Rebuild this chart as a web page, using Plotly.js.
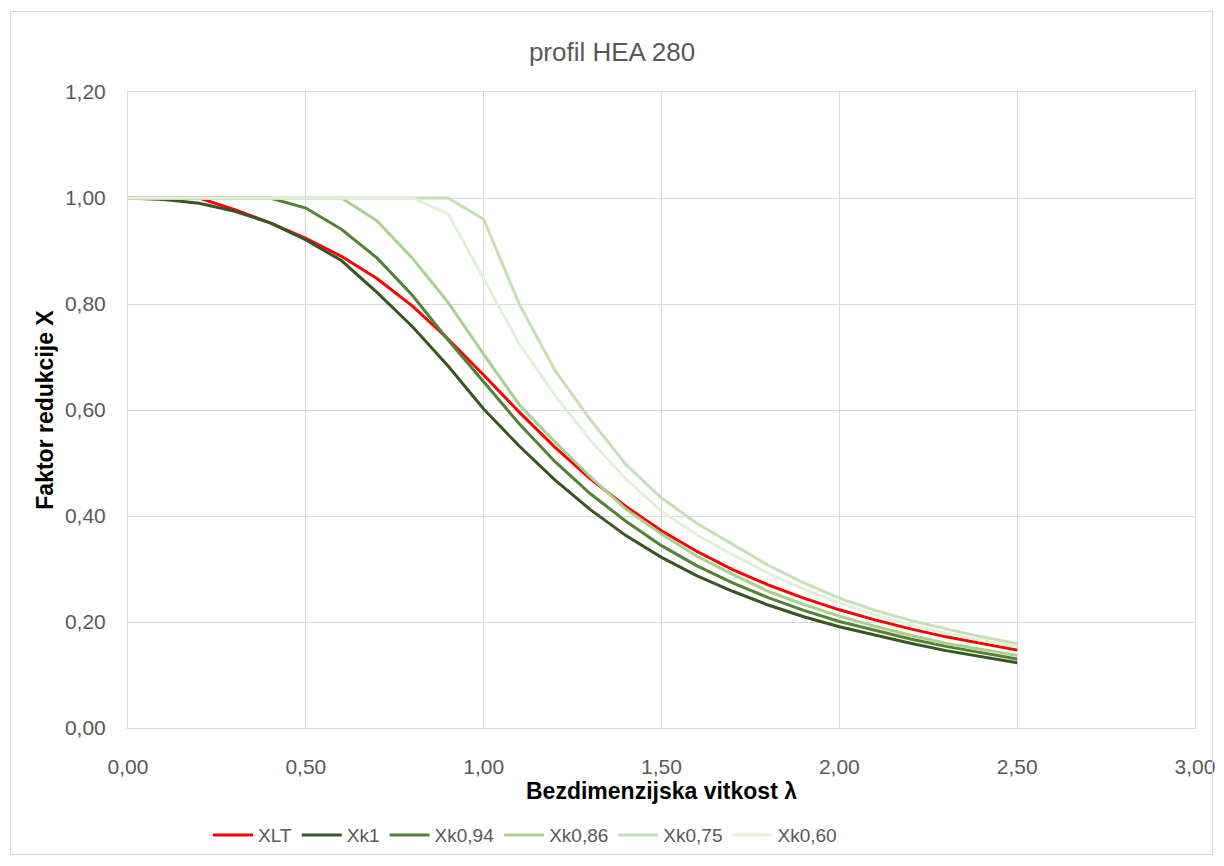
<!DOCTYPE html>
<html>
<head>
<meta charset="utf-8">
<script src="https://cdn.plot.ly/plotly-3.0.1.min.js"></script>
<style>
  body { margin: 0; background: #ffffff; }
  #wrap { position: relative; width: 1224px; height: 866px; }
  #chart { position: absolute; left: 0; top: 0; width: 1224px; height: 866px; }
  #frame { position: absolute; left: 10px; top: 11px; width: 1201px; height: 842px;
           border: 1px solid #d9d9d9; pointer-events: none; }
</style>
</head>
<body>
<div id="wrap">
  <div id="chart"></div>
  <div id="frame"></div>
</div>
<script>
// slenderness values (lambda)
const lambda = [0.0, 0.1, 0.2, 0.3, 0.4, 0.5, 0.6, 0.7, 0.8, 0.9, 1.0, 1.1, 1.2, 1.3,
                1.4, 1.5, 1.6, 1.7, 1.8, 1.9, 2.0, 2.1, 2.2, 2.3, 2.4, 2.5];

const XLT = [1.000, 1.000, 1.000, 0.978, 0.953, 0.924, 0.890, 0.848, 0.796, 0.734, 0.666, 0.596, 0.530,
             0.470, 0.418, 0.372, 0.333, 0.299, 0.270, 0.245, 0.223, 0.204, 0.187, 0.172, 0.159, 0.147];

const Xk1 = [1.000, 0.997, 0.990, 0.975, 0.953, 0.921, 0.882, 0.822, 0.757, 0.683, 0.602, 0.532, 0.468,
             0.412, 0.363, 0.322, 0.287, 0.258, 0.232, 0.210, 0.191, 0.175, 0.160, 0.146, 0.134, 0.123];

const Xk094 = [1.000, 1.000, 1.000, 1.000, 1.000, 0.981, 0.941, 0.887, 0.816, 0.732, 0.652, 0.574, 0.503,
               0.442, 0.390, 0.344, 0.306, 0.274, 0.246, 0.222, 0.201, 0.184, 0.168, 0.154, 0.142, 0.130];

const Xk086 = [1.000, 1.000, 1.000, 1.000, 1.000, 1.000, 1.000, 0.957, 0.886, 0.803, 0.705, 0.610, 0.540,
               0.474, 0.413, 0.366, 0.324, 0.290, 0.258, 0.233, 0.211, 0.192, 0.175, 0.160, 0.148, 0.137];

const Xk075 = [1.000, 1.000, 1.000, 1.000, 1.000, 1.000, 1.000, 1.000, 1.000, 1.000, 0.960, 0.800, 0.675,
               0.582, 0.497, 0.434, 0.386, 0.346, 0.307, 0.274, 0.245, 0.222, 0.203, 0.187, 0.172, 0.159];

const Xk060 = [1.000, 1.000, 1.000, 1.000, 1.000, 1.000, 1.000, 1.000, 1.000, 0.970, 0.848, 0.725, 0.628,
               0.543, 0.470, 0.409, 0.364, 0.327, 0.292, 0.262, 0.236, 0.214, 0.195, 0.179, 0.165, 0.153];

const seriesNames = ["XLT", "Xk1", "Xk0,94", "Xk0,86", "Xk0,75", "Xk0,60"];
const seriesData = [XLT, Xk1, Xk094, Xk086, Xk075, Xk060];
const seriesColors = ["#ff0000", "#375623", "#548235", "#a9d18e", "#c5e0b4", "#e2f0d9"];

const FONT = "Liberation Sans, Arial, sans-serif";

const traces = seriesNames.map((name, i) => ({
  type: "scatter",
  mode: "lines",
  name: name,
  x: lambda,
  y: seriesData[i],
  line: { color: seriesColors[i], width: 3 }
}));

const layout = {
  width: 1224,
  height: 866,
  margin: { l: 128, r: 29, t: 92, b: 133 },
  paper_bgcolor: "#ffffff",
  plot_bgcolor: "#ffffff",
  separators: ", ",
  font: { family: FONT, color: "#595959", size: 21 },
  title: {
    text: "profil HEA 280",
    font: { family: FONT, size: 26, color: "#595959" },
    x: 0.5, xref: "container", xanchor: "center",
    y: 1 - 52 / 866, yref: "container", yanchor: "middle"
  },
  xaxis: {
    range: [0, 3],
    dtick: 0.5,
    tick0: 0,
    tickformat: ".2f",
    showgrid: true,
    gridcolor: "#d9d9d9",
    gridwidth: 1,
    zeroline: false,
    showline: true,
    linecolor: "#d9d9d9",
    linewidth: 1,
    mirror: true,
    ticks: "",
    ticklabelstandoff: 20,
    tickfont: { family: FONT, size: 21, color: "#595959" },
    title: {
      text: "Bezdimenzijska vitkost λ",
      font: { family: FONT, size: 23, color: "#000000", weight: "bold" },
      standoff: 0
    }
  },
  yaxis: {
    range: [0, 1.2],
    dtick: 0.2,
    tick0: 0,
    tickformat: ".2f",
    showgrid: true,
    gridcolor: "#d9d9d9",
    gridwidth: 1,
    zeroline: false,
    showline: true,
    linecolor: "#d9d9d9",
    linewidth: 1,
    mirror: true,
    ticks: "",
    ticklabelstandoff: 17,
    tickfont: { family: FONT, size: 21, color: "#595959" },
    title: {
      text: "Faktor redukcije X",
      font: { family: FONT, size: 23, color: "#000000", weight: "bold" },
      standoff: 4
    }
  },
  legend: {
    orientation: "h",
    x: (208 - 128) / 1067, xanchor: "left",
    y: (733 - 841) / 641, yanchor: "middle",
    itemwidth: 40,
    font: { family: FONT, size: 19, color: "#595959" },
    bgcolor: "rgba(0,0,0,0)"
  },
  showlegend: true
};

Plotly.newPlot("chart", traces, layout, { displayModeBar: false, staticPlot: true });
</script>
</body>
</html>
